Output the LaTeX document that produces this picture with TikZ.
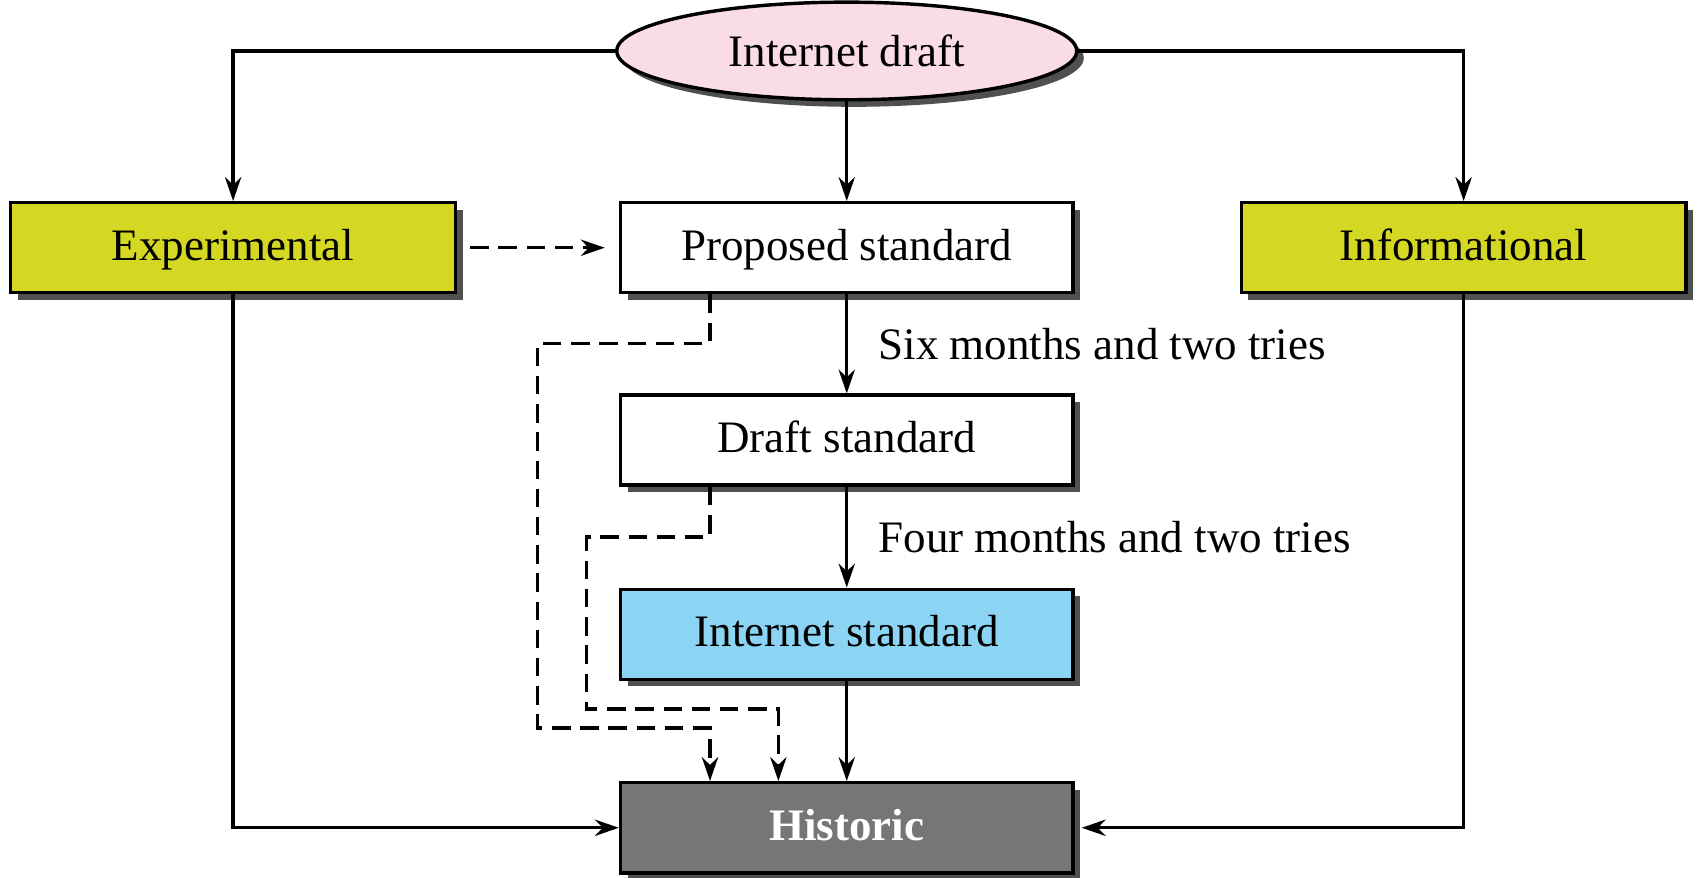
\documentclass[tikz,border=0pt]{standalone}
\usepackage{fontspec}
\setmainfont{Liberation Serif}
\usepackage{tikz}
\usetikzlibrary{shapes.geometric, arrows.meta, positioning, calc, shadows}

\definecolor{stdyellow}{RGB}{212,216,34}
\definecolor{draftpink}{RGB}{250,220,232}
\definecolor{inetblue}{RGB}{140,212,244}
\definecolor{histgray}{RGB}{118,118,120}
\definecolor{shadowgray}{RGB}{80,80,80}

\tikzset{
  shade/.style={drop shadow={shadow xshift=0.065cm, shadow yshift=-0.065cm, fill=shadowgray, opacity=1}},
  stdbox/.style={draw, line width=0.9pt, fill=white, minimum width=4.17cm, minimum height=0.83cm, inner sep=0pt, text height=1.75ex, text depth=0.3ex, shade},
  sidebox/.style={stdbox, fill=stdyellow, minimum width=4.1cm},
  arr/.style={-{Stealth[length=0.22cm, width=0.15cm]}, line width=0.9pt},
  dasharr/.style={arr, dash pattern=on 0.17cm off 0.09cm}
}

\begin{document}
\begin{tikzpicture}[x=0.01cm, y=-0.01cm, font=\fontsize{11.8}{14}\selectfont]
\useasboundingbox (0,0) rectangle (1568,809);

% Top ellipse
\node[ellipse, draw, line width=0.9pt, fill=draftpink, minimum width=4.24cm, minimum height=0.9cm, inner sep=0pt, shade] (idraft) at (781,47) {Internet draft};

% First row
\node[sidebox] (exper) at (215,228.5) {Experimental};
\node[stdbox] (prop) at (781,228.5) {Proposed standard};
\node[sidebox] (info) at (1350,228.5) {Informational};

% Middle column
\node[stdbox] (draftstd) at (781,406) {Draft standard};
\node[stdbox, fill=inetblue] (inetstd) at (781,585) {Internet standard};
\node[stdbox, fill=histgray, text=white, font=\fontsize{11.8}{14}\selectfont\bfseries] (hist) at (781,763.5) {Historic};

% Entry points on top of Historic
\coordinate (hA) at ($(hist.north west)!0.2!(hist.north east)$);
\coordinate (hB) at ($(hist.north west)!0.35!(hist.north east)$);

% Solid connectors
\draw[arr] (idraft.west) -| (exper.north);
\draw[arr] (idraft.east) -| (info.north);
\draw[arr] (idraft.south) -- (prop.north);
\draw[arr] (prop.south) -- node[right=0.16cm] {Six months and two tries} (draftstd.north);
\draw[arr] (draftstd.south) -- node[right=0.16cm] {Four months and two tries} (inetstd.north);
\draw[arr] (inetstd.south) -- (hist.north);
\draw[arr] (exper.south) |- (hist.west);
\draw[arr] (info.south) |- ([xshift=0.065cm]hist.east);

% Dashed connectors
\draw[dasharr, shorten <=0.12cm, shorten >=0.13cm] (exper.east) -- (prop.west);
\draw[dasharr] (prop.south -| hA) -- ++(0,45) -- ++(-159,0) -- ++(0,355) -| (hA);
\draw[dasharr] (draftstd.south -| hA) -- ++(0,46) -- ++(-114,0) -- ++(0,159) -| (hB);
\end{tikzpicture}
\end{document}
